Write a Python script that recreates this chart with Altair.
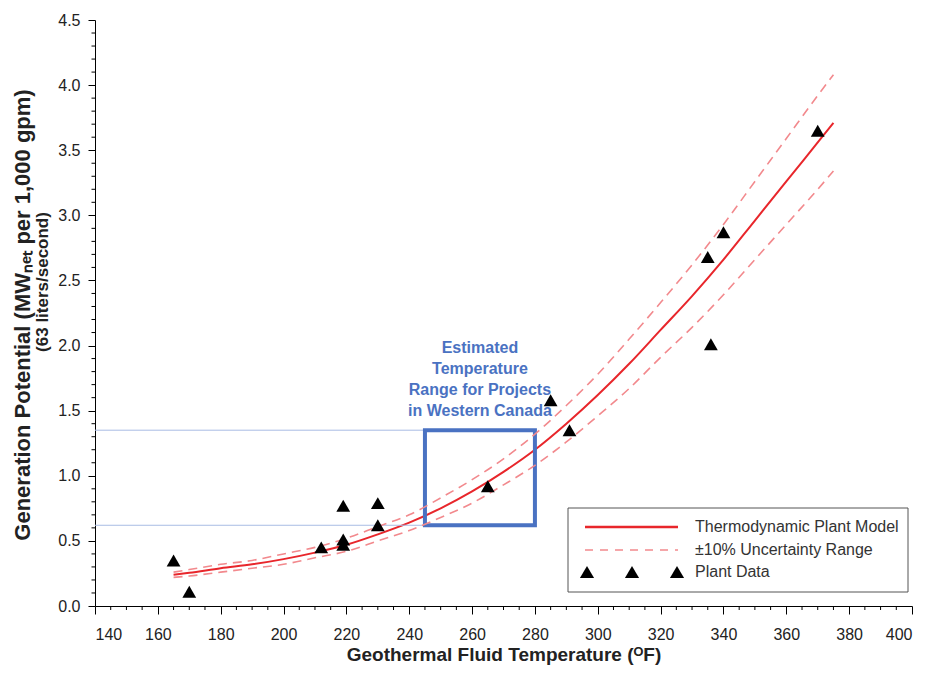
import altair as alt
import pandas as pd

# ---- data ----
model_temp = [165, 170, 180, 190, 200, 210, 220, 230, 240, 250, 260, 270, 280,
              290, 300, 310, 320, 330, 340, 350, 360, 370, 375]
model_gen = [0.24, 0.255, 0.29, 0.32, 0.36, 0.41, 0.47, 0.55, 0.64, 0.75, 0.88, 1.03, 1.20,
             1.40, 1.62, 1.86, 2.12, 2.38, 2.66, 2.96, 3.26, 3.56, 3.71]
upper_gen = [0.26, 0.28, 0.32, 0.35, 0.40, 0.45, 0.52, 0.61, 0.70, 0.83, 0.97, 1.13, 1.32,
             1.54, 1.78, 2.05, 2.33, 2.62, 2.93, 3.26, 3.59, 3.92, 4.08]
lower_gen = [0.22, 0.23, 0.26, 0.29, 0.32, 0.37, 0.42, 0.50, 0.58, 0.68, 0.79, 0.93, 1.08,
             1.26, 1.46, 1.67, 1.91, 2.14, 2.39, 2.66, 2.93, 3.20, 3.34]

plant_temp = [165, 170, 212, 219, 219, 219, 230, 230, 265, 285, 291, 335, 336, 340, 370]
plant_gen = [0.35, 0.11, 0.45, 0.77, 0.51, 0.47, 0.79, 0.62, 0.92, 1.58, 1.35, 2.68, 2.01, 2.87, 3.65]

x_ticks = list(range(140, 401, 20))
y_ticks = [0.0, 0.5, 1.0, 1.5, 2.0, 2.5, 3.0, 3.5, 4.0, 4.5]
x_minor = [v for v in range(140, 401, 5) if v % 20 != 0]
y_minor = [round(v / 10, 1) for v in range(0, 46) if v % 5 != 0]

box_temp = [245, 280]
box_gen = [0.62, 1.35]

legend_labels = ["Thermodynamic Plant Model", "\u00b110% Uncertainty Range", "Plant Data"]
note_lines = ["Estimated", "Temperature", "Range for Projects", "in Western Canada"]

W, H = 817, 586
FONT = "Liberation Sans"
RED = "#e8262b"
PINK = "#f2898d"
BLUE = "#4a72c2"

xs = alt.Scale(domain=[140, 400], nice=False)
ys = alt.Scale(domain=[0, 4.5], nice=False)

model_df = pd.DataFrame({"t": model_temp, "m": model_gen, "u": upper_gen, "l": lower_gen})
plant_df = pd.DataFrame({"t": plant_temp, "g": plant_gen})

xaxis = alt.Axis(values=x_ticks, grid=False, tickSize=8, tickColor="black", domainColor="black",
                 labelFont=FONT, labelFontSize=16, labelColor="#222", labelPadding=12,
                 title="Geothermal Fluid Temperature (\u1d3cF)", titleFont=FONT, titleFontSize=19,
                 titleFontWeight="bold", titleColor="#222", titlePadding=3)
yaxis = alt.Axis(values=y_ticks, grid=False, tickSize=7, tickColor="black", domainColor="black",
                 format=".1f", labelFont=FONT, labelFontSize=16, labelColor="#222", labelPadding=8,
                 title=None)

base = alt.Chart(model_df)

solid = base.mark_line(color=RED, strokeWidth=2, interpolate="monotone").encode(
    x=alt.X("t:Q", scale=xs, axis=xaxis), y=alt.Y("m:Q", scale=ys, axis=yaxis))
up = base.mark_line(color=PINK, strokeWidth=1.6, strokeDash=[9, 6], interpolate="monotone").encode(
    x=alt.X("t:Q", scale=xs), y=alt.Y("u:Q", scale=ys))
lo = base.mark_line(color=PINK, strokeWidth=1.6, strokeDash=[9, 6], interpolate="monotone").encode(
    x=alt.X("t:Q", scale=xs), y=alt.Y("l:Q", scale=ys))

pts = alt.Chart(plant_df).mark_point(shape="triangle-up", filled=True, color="black",
                                     size=190, opacity=1).encode(
    x=alt.X("t:Q", scale=xs), y=alt.Y("g:Q", scale=ys))

hlines = alt.Chart(pd.DataFrame({"g": box_gen})).mark_rule(color="#a8bce4", strokeWidth=1).encode(
    x=alt.datum(140, scale=xs), x2=alt.datum(box_temp[0]), y=alt.Y("g:Q", scale=ys))

box = alt.Chart(pd.DataFrame({"t1": [box_temp[0]], "t2": [box_temp[1]],
                              "g1": [box_gen[0]], "g2": [box_gen[1]]})).mark_rect(
    fill=None, fillOpacity=0, stroke=BLUE, strokeWidth=4).encode(
    x=alt.X("t1:Q", scale=xs), x2="t2:Q", y=alt.Y("g1:Q", scale=ys), y2="g2:Q")

note = alt.Chart(pd.DataFrame({"a": [0]})).mark_text(
    text=note_lines, font=FONT, fontSize=16, fontWeight="bold", color=BLUE,
    align="center", baseline="middle", lineHeight=21).encode(
    x=alt.datum(262.5, scale=xs), y=alt.datum(1.98, scale=ys))

xminor = alt.Chart(pd.DataFrame({"t": x_minor})).mark_rule(color="black", strokeWidth=1).encode(
    x=alt.X("t:Q", scale=xs), y=alt.value(H), y2=alt.value(H + 4))
yminor = alt.Chart(pd.DataFrame({"g": y_minor})).mark_rule(color="black", strokeWidth=1).encode(
    y=alt.Y("g:Q", scale=ys), x=alt.value(-3.5), x2=alt.value(0))

one = pd.DataFrame({"a": [0]})
ytitle1 = alt.Chart(one).mark_text(
    text="Generation Potential (MW\u2099\u2091\u209c per 1,000 gpm)", font=FONT, fontSize=22,
    fontWeight="bold", color="#222", angle=270, align="center", baseline="middle").encode(
    x=alt.value(-72), y=alt.value(295))
ytitle2 = alt.Chart(one).mark_text(
    text="(63 liters/second)", font=FONT, fontSize=17, fontWeight="bold", color="#222",
    angle=270, align="center", baseline="middle").encode(x=alt.value(-52), y=alt.value(262))

# legend
lx0, lx1, ly0, ly1 = 473, 813, 488, 572
leg_box = alt.Chart(one).mark_rect(fill="white", stroke="#555", strokeWidth=1).encode(
    x=alt.value(lx0), x2=alt.value(lx1), y=alt.value(ly0), y2=alt.value(ly1))
leg_solid = alt.Chart(one).mark_rule(color=RED, strokeWidth=2.5).encode(
    x=alt.value(490), x2=alt.value(583), y=alt.value(507))
leg_dash = alt.Chart(one).mark_rule(color=PINK, strokeWidth=1.6, strokeDash=[8, 7]).encode(
    x=alt.value(490), x2=alt.value(583), y=alt.value(530))
leg_tris = [alt.Chart(one).mark_point(shape="triangle-up", filled=True, color="black", size=200,
                                      opacity=1).encode(x=alt.value(px), y=alt.value(552))
            for px in (492, 537, 582)]
leg_texts = [alt.Chart(one).mark_text(text=lab, font=FONT, fontSize=16, color="#333",
                                      align="left", baseline="middle").encode(
    x=alt.value(600), y=alt.value(py)) for lab, py in zip(legend_labels, (507, 530, 552))]

chart = alt.layer(
    solid, hlines, box, lo, up, pts, note, xminor, yminor, ytitle1, ytitle2,
    leg_box, leg_solid, leg_dash, *leg_tris, *leg_texts
).properties(
    width=W, height=H,
    padding={"left": 87, "top": 12, "right": 8, "bottom": 63},
    autosize=alt.AutoSizeParams(type="none"),
    background="white",
).configure_view(stroke=None)

chart.save("out.html", embed_options={"renderer": "svg", "actions": False})
